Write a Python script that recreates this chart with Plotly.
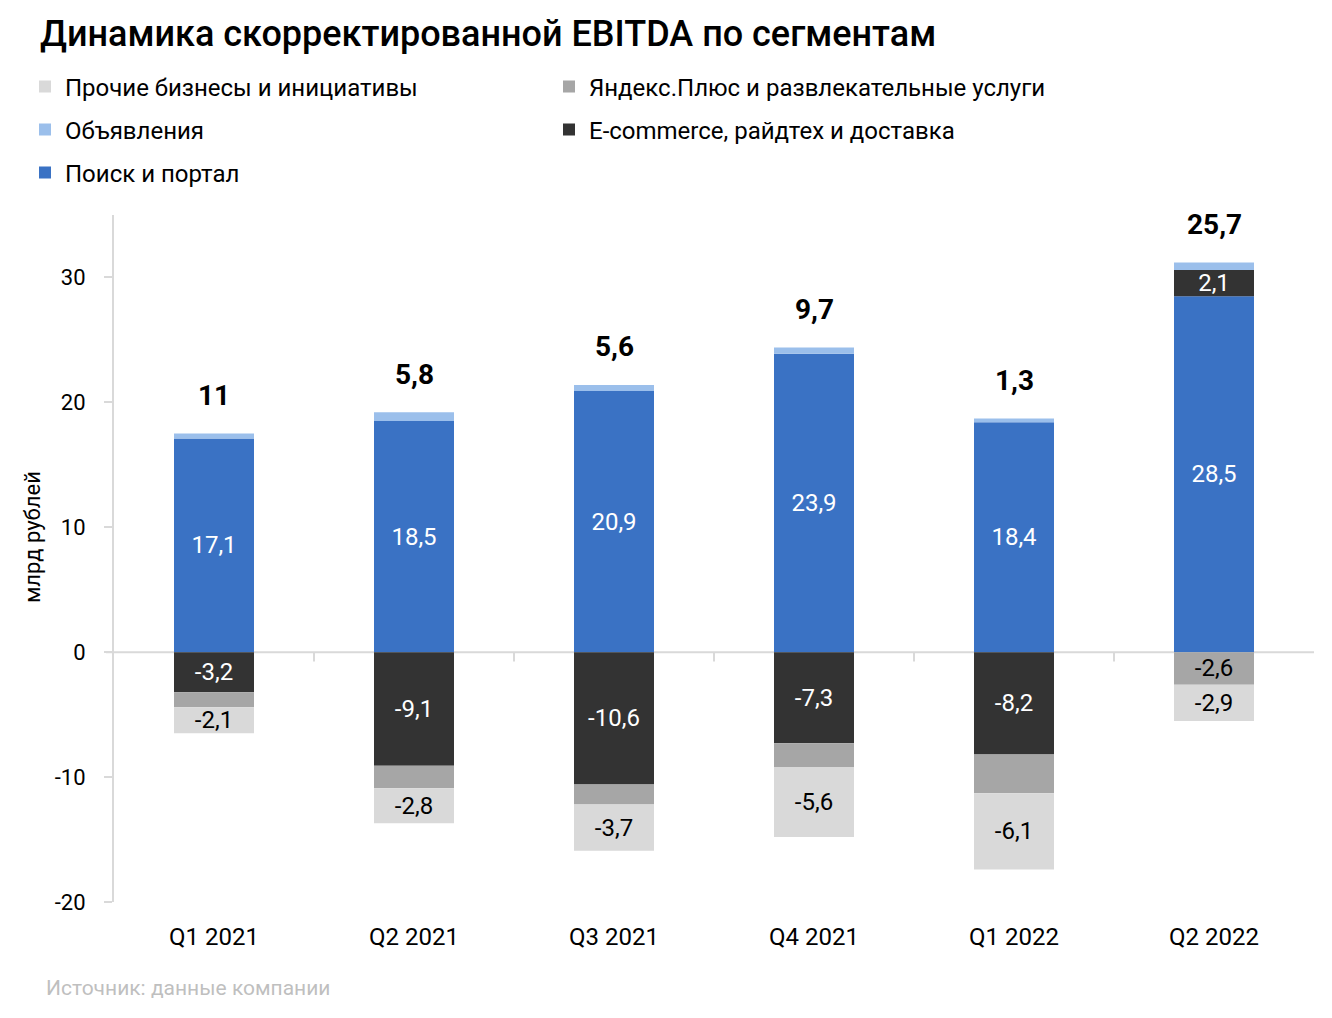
import plotly.graph_objects as go

categories = ["Q1 2021", "Q2 2021", "Q3 2021", "Q4 2021", "Q1 2022", "Q2 2022"]
search_portal = [17.1, 18.5, 20.9, 23.9, 18.4, 28.5]
classifieds = [0.4, 0.7, 0.5, 0.5, 0.3, 0.6]
ecommerce = [-3.2, -9.1, -10.6, -7.3, -8.2, 2.1]
plus_entertainment = [-1.2, -1.8, -1.6, -1.9, -3.1, -2.6]
other_bets = [-2.1, -2.8, -3.7, -5.6, -6.1, -2.9]
totals = [11, 5.8, 5.6, 9.7, 1.3, 25.7]
y_ticks = [-20, -10, 0, 10, 20, 30]

FONT = "Roboto"
OFF = 8  # page offset of the figure on screen
W, H = 1332, 1018
# plot area in screen coordinates: x 114..1314, y 215..902
L = 114 - OFF
T = 215 - OFF
PW, PH = 1200, 687
R = W - L - PW
B = H - T - PH


def fmt(v):
    s = ("%g" % v) if float(v).is_integer() else ("%.1f" % v)
    return s.replace(".", ",")


def labels(vals, show):
    return [fmt(v) if s else "" for v, s in zip(vals, show)]


def py(p):  # screen y -> paper
    return (T + PH - (p - OFF)) / PH


def px(p):  # screen x -> paper
    return ((p - OFF) - L) / PW


fig = go.Figure()

series = [
    ("Поиск и портал", search_portal, "#3A72C4", "white", [True] * 6, 1, "legend3"),
    ("E-commerce, райдтех и доставка", ecommerce, "#333333", "white", [True] * 6, 2, "legend2"),
    ("Объявления", classifieds, "#9BBFEB", "black", [False] * 6, 1, "legend2"),
    ("Яндекс.Плюс и развлекательные услуги", plus_entertainment, "#A6A6A6", "black",
     [False, False, False, False, False, True], 2, "legend"),
    ("Прочие бизнесы и инициативы", other_bets, "#D9D9D9", "black", [True] * 6, 1, "legend"),
]

for name, vals, color, tcolor, show, rank, leg in series:
    fig.add_trace(go.Bar(
        name=name, x=categories, y=vals,
        marker=dict(color=color, line=dict(width=0)),
        text=labels(vals, show), textposition="inside", insidetextanchor="middle",
        textangle=0, constraintext="none",
        insidetextfont=dict(family=FONT, size=24, color=tcolor),
        legendrank=rank, legend=leg, hoverinfo="skip",
    ))

# stack tops for total labels
tops = []
for i in range(len(categories)):
    pos = sum(v[i] for v in [search_portal, classifieds, ecommerce, plus_entertainment, other_bets] if v[i] > 0)
    tops.append(pos)

for c, t, tot in zip(categories, tops, totals):
    fig.add_annotation(x=c, y=t, text=fmt(tot), showarrow=False, yanchor="middle", yshift=38,
                       font=dict(family=FONT, size=28, color="black", weight="bold"))

# zero line and category separator ticks
fig.add_shape(type="line", xref="paper", yref="y", x0=px(106), x1=1, y0=0, y1=0,
              line=dict(color="#D9D9D9", width=2), layer="below")
for k in range(1, len(categories)):
    fig.add_shape(type="line", xref="x", yref="y", x0=k - 0.5, x1=k - 0.5, y0=0, y1=-0.75,
                  line=dict(color="#D9D9D9", width=2), layer="below")

fig.add_annotation(xref="paper", yref="paper", x=px(32), y=py(537), xanchor="center", yanchor="middle",
                   text="млрд рублей", textangle=-90, showarrow=False,
                   font=dict(family=FONT, size=22, color="black"))
fig.add_annotation(xref="paper", yref="paper", x=px(44), y=py(988), xanchor="left", yanchor="middle",
                   text="Источник: данные компании", showarrow=False,
                   font=dict(family=FONT, size=21, color="#BFBFBF"))

legend_common = dict(orientation="h", xanchor="left", yanchor="middle", x=px(25),
                     entrywidth=479, entrywidthmode="pixels", traceorder="normal",
                     font=dict(family=FONT, size=24, color="black"), itemclick=False,
                     bgcolor="rgba(0,0,0,0)")

fig.update_layout(
    width=W, height=H,
    margin=dict(l=L, r=R, t=T, b=B, autoexpand=False),
    barmode="relative", bargap=0.6,
    separators=", ",
    plot_bgcolor="white", paper_bgcolor="white",
    font=dict(family=FONT, color="black"),
    title=dict(text="Динамика скорректированной EBITDA по сегментам", x=(40 - OFF) / W, xanchor="left",
               xref="container", y=1 - 25 / H, yanchor="middle", yref="container",
               font=dict(family=FONT, size=36, color="black", weight=500)),
    legend=dict(y=py(87), **legend_common),
    legend2=dict(y=py(130), **legend_common),
    legend3=dict(y=py(173), **legend_common),
    showlegend=True,
)
fig.update_xaxes(showgrid=False, showline=False, ticks="outside", ticklen=13, tickcolor="rgba(0,0,0,0)",
                 tickfont=dict(family=FONT, size=24, color="black"))
fig.update_yaxes(range=[-20, 35], tickvals=y_ticks, ticktext=[fmt(v) for v in y_ticks],
                 showgrid=False, zeroline=False, showline=True, linecolor="#D9D9D9", linewidth=2,
                 ticks="outside", ticklen=8, tickcolor="#D9D9D9", tickwidth=2,
                 ticklabelstandoff=14, tickfont=dict(family=FONT, size=22, color="black"))

fig.write_html("out.html")
